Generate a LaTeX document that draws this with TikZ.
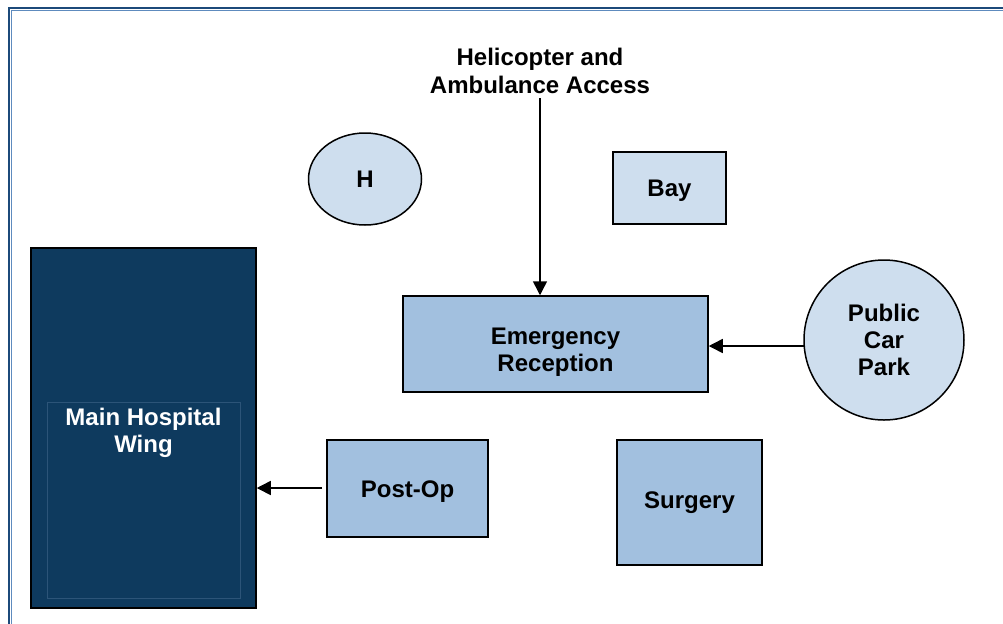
\documentclass[tikz,border=0pt]{standalone}
\usepackage{fontspec}
\setmainfont{Liberation Sans}
\usetikzlibrary{arrows.meta,shapes.geometric}
\definecolor{lightfill}{HTML}{CEDEEE}
\definecolor{midfill}{HTML}{A2C0DF}
\definecolor{wingfill}{HTML}{0E3A5E}
\definecolor{wingline}{HTML}{2C5478}
\definecolor{framedark}{HTML}{1C4A7A}
\definecolor{framelight}{HTML}{5E8BBE}
\begin{document}
\begin{tikzpicture}[x=0.5pt,y=-0.5pt,
    font=\fontsize{12}{13.6}\selectfont\bfseries,
    block/.style={draw,line width=0.75pt,align=center,inner sep=0pt},
    lightblock/.style={block,fill=lightfill},
    midblock/.style={block,fill=midfill},
    link/.style={line width=0.75pt,-{Triangle[length=7pt,width=7pt]}}]
    \useasboundingbox (0,0) rectangle (1003,623);
    \draw[framedark,line width=1.4pt] (9,8) rectangle (1040,660);
    \draw[framelight,line width=0.5pt] (11,10) rectangle (1040,660);
    % top row
    \node[lightblock,ellipse,minimum width=56.5pt,minimum height=46pt] (heli) at (365,179) {H};
    \node[lightblock,minimum width=56.5pt,minimum height=36pt] (bay) at (669.5,188) {};
    \node (baytext) at (669.5,191) {Bay};
    \node[align=center] (access) at (540,71) {Helicopter and\\Ambulance Access};
    \coordinate (accessend) at (540,98);
    % middle
    \node[midblock,minimum width=152.5pt,minimum height=48pt] (er) at (555.5,344) {};
    \node[align=center] (ertext) at (555.5,352) {Emergency\\Reception};
    \node[lightblock,circle,minimum size=80pt] (park) at (884,340) {Public\\Car\\Park};
    \coordinate (parkout) at (804,346);
    % main wing
    \node[block,fill=wingfill,minimum width=112.5pt,minimum height=180pt] (wing) at (143.5,428) {};
    \draw[wingline,line width=0.4pt] (47,402) rectangle (240,598);
    \node[text=white,align=center,anchor=north] (wingtext) at (143.5,401) {Main Hospital\\Wing};
    % bottom row
    \node[midblock,minimum width=80.5pt,minimum height=48.5pt] (postop) at (407.5,488.5) {};
    \node (postoptext) at (407.5,492) {Post-Op};
    \node[midblock,minimum width=72.5pt,minimum height=62.5pt] (surgery) at (689.5,502.5) {Surgery};
    \coordinate (poststart) at (322,488);
    % arrows
    \draw[link] (accessend) -- (accessend |- er.north);
    \draw[link] (parkout) -- (er.east |- parkout);
    \draw[link] (poststart) -- (wing.east |- poststart);
\end{tikzpicture}
\end{document}
